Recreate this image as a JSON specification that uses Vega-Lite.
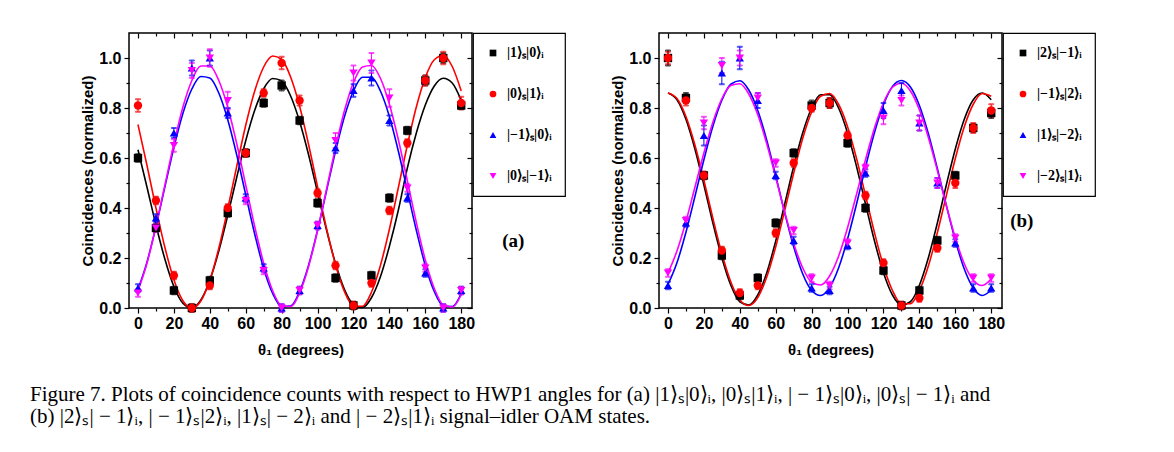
{
  "$schema": "https://vega.github.io/schema/vega-lite/v6.json",
  "background": "white",
  "padding": {"left": 30, "top": 31, "right": 10, "bottom": 10},
  "config": {
    "view": {"stroke": "black", "strokeWidth": 1.5},
    "font": "Liberation Sans",
    "axis": {"labelFont": "Liberation Sans", "labelFontWeight": "bold", "labelFontSize": 16, "labelColor": "black", "titleFont": "Liberation Sans", "titleFontWeight": "bold", "titleFontSize": 15, "titleColor": "black", "tickColor": "black", "tickWidth": 1.2, "grid": false, "domain": false},
    "legend": {"orient": "right", "offset": 0, "padding": 13, "strokeColor": "black", "strokeWidth": 1.2, "rowPadding": 27, "symbolSize": 45, "labelFont": "Liberation Serif", "labelFontWeight": "bold", "labelFontSize": 14, "labelColor": "black", "labelOffset": 7, "symbolStrokeWidth": 0}
  },
  "title": {
    "text": ["Figure 7.  Plots of coincidence counts with respect to HWP1 angles for (a) |1⟩ₛ|0⟩ᵢ, |0⟩ₛ|1⟩ᵢ, | − 1⟩ₛ|0⟩ᵢ, |0⟩ₛ| − 1⟩ᵢ and", "(b) |2⟩ₛ| − 1⟩ᵢ, | − 1⟩ₛ|2⟩ᵢ, |1⟩ₛ| − 2⟩ᵢ and | − 2⟩ₛ|1⟩ᵢ signal–idler OAM states."],
    "orient": "bottom", "anchor": "start", "frame": "bounds", "dx": -50, "offset": 26,
    "font": "Liberation Serif", "fontSize": 21, "fontWeight": "normal", "color": "black", "lineHeight": 22
  },
  "datasets": {
    "fitA": [
      {"t":0,"a1":0.633,"a2":0.734,"a3":0.074,"a4":0.069},
      {"t":5,"a1":0.484,"a2":0.571,"a3":0.183,"a4":0.179},
      {"t":10,"a1":0.332,"a2":0.400,"a3":0.326,"a4":0.326},
      {"t":15,"a1":0.195,"a2":0.242,"a3":0.485,"a4":0.492},
      {"t":20,"a1":0.086,"a2":0.113,"a3":0.642,"a4":0.657},
      {"t":25,"a1":0.019,"a2":0.029,"a3":0.778,"a4":0.803},
      {"t":30,"a1":0.000,"a2":0.000,"a3":0.876,"a4":0.910},
      {"t":35,"a1":0.032,"a2":0.028,"a3":0.926,"a4":0.968},
      {"t":40,"a1":0.111,"a2":0.111,"a3":0.920,"a4":0.968},
      {"t":45,"a1":0.228,"a2":0.239,"a3":0.860,"a4":0.910},
      {"t":50,"a1":0.371,"a2":0.397,"a3":0.753,"a4":0.803},
      {"t":55,"a1":0.523,"a2":0.567,"a3":0.612,"a4":0.657},
      {"t":60,"a1":0.669,"a2":0.731,"a3":0.453,"a4":0.492},
      {"t":65,"a1":0.791,"a2":0.868,"a3":0.296,"a4":0.326},
      {"t":70,"a1":0.877,"a2":0.964,"a3":0.158,"a4":0.179},
      {"t":75,"a1":0.918,"a2":1.008,"a3":0.058,"a4":0.069},
      {"t":80,"a1":0.908,"a2":0.994,"a3":0.006,"a4":0.009},
      {"t":85,"a1":0.848,"a2":0.924,"a3":0.008,"a4":0.006},
      {"t":90,"a1":0.746,"a2":0.807,"a3":0.066,"a4":0.060},
      {"t":95,"a1":0.613,"a2":0.654,"a3":0.171,"a4":0.166},
      {"t":100,"a1":0.462,"a2":0.485,"a3":0.311,"a4":0.310},
      {"t":105,"a1":0.312,"a2":0.318,"a3":0.469,"a4":0.475},
      {"t":110,"a1":0.178,"a2":0.173,"a3":0.627,"a4":0.641},
      {"t":115,"a1":0.074,"a2":0.065,"a3":0.766,"a4":0.790},
      {"t":120,"a1":0.014,"a2":0.008,"a3":0.868,"a4":0.902},
      {"t":125,"a1":0.002,"a2":0.007,"a3":0.923,"a4":0.964},
      {"t":130,"a1":0.041,"a2":0.063,"a3":0.923,"a4":0.970},
      {"t":135,"a1":0.125,"a2":0.170,"a3":0.868,"a4":0.919},
      {"t":140,"a1":0.247,"a2":0.315,"a3":0.766,"a4":0.815},
      {"t":145,"a1":0.392,"a2":0.482,"a3":0.627,"a4":0.673},
      {"t":150,"a1":0.560,"a2":0.651,"a3":0.469,"a4":0.509},
      {"t":155,"a1":0.700,"a2":0.804,"a3":0.311,"a4":0.342},
      {"t":160,"a1":0.812,"a2":0.922,"a3":0.170,"a4":0.192},
      {"t":165,"a1":0.888,"a2":0.993,"a3":0.066,"a4":0.078},
      {"t":170,"a1":0.919,"a2":1.010,"a3":0.008,"a4":0.012},
      {"t":175,"a1":0.900,"a2":0.966,"a3":0.006,"a4":0.004},
      {"t":180,"a1":0.830,"a2":0.868,"a3":0.058,"a4":0.053}
    ],
    "fitB": [
      {"t":0,"b1":0.860,"b2":0.860,"b3":0.094,"b4":0.140},
      {"t":5,"b1":0.833,"b2":0.838,"b3":0.181,"b4":0.228},
      {"t":10,"b1":0.755,"b2":0.766,"b3":0.303,"b4":0.346},
      {"t":15,"b1":0.636,"b2":0.652,"b3":0.446,"b4":0.483},
      {"t":20,"b1":0.492,"b2":0.511,"b3":0.593,"b4":0.620},
      {"t":25,"b1":0.340,"b2":0.359,"b3":0.727,"b4":0.743},
      {"t":30,"b1":0.201,"b2":0.218,"b3":0.831,"b4":0.837},
      {"t":35,"b1":0.091,"b2":0.104,"b3":0.895,"b4":0.890},
      {"t":40,"b1":0.025,"b2":0.032,"b3":0.909,"b4":0.897},
      {"t":45,"b1":0.012,"b2":0.010,"b3":0.872,"b4":0.856},
      {"t":50,"b1":0.052,"b2":0.042,"b3":0.790,"b4":0.773},
      {"t":55,"b1":0.141,"b2":0.124,"b3":0.671,"b4":0.657},
      {"t":60,"b1":0.268,"b2":0.245,"b3":0.529,"b4":0.522},
      {"t":65,"b1":0.416,"b2":0.390,"b3":0.381,"b4":0.383},
      {"t":70,"b1":0.566,"b2":0.540,"b3":0.245,"b4":0.258},
      {"t":75,"b1":0.700,"b2":0.678,"b3":0.137,"b4":0.161},
      {"t":80,"b1":0.800,"b2":0.784,"b3":0.070,"b4":0.103},
      {"t":85,"b1":0.853,"b2":0.847,"b3":0.050,"b4":0.092},
      {"t":90,"b1":0.853,"b2":0.858,"b3":0.082,"b4":0.128},
      {"t":95,"b1":0.800,"b2":0.815,"b3":0.160,"b4":0.207},
      {"t":100,"b1":0.700,"b2":0.725,"b3":0.276,"b4":0.321},
      {"t":105,"b1":0.566,"b2":0.598,"b3":0.416,"b4":0.455},
      {"t":110,"b1":0.416,"b2":0.450,"b3":0.564,"b4":0.593},
      {"t":115,"b1":0.268,"b2":0.301,"b3":0.702,"b4":0.720},
      {"t":120,"b1":0.141,"b2":0.168,"b3":0.813,"b4":0.821},
      {"t":125,"b1":0.052,"b2":0.070,"b3":0.886,"b4":0.883},
      {"t":130,"b1":0.012,"b2":0.017,"b3":0.910,"b4":0.899},
      {"t":135,"b1":0.025,"b2":0.017,"b3":0.884,"b4":0.868},
      {"t":140,"b1":0.091,"b2":0.070,"b3":0.810,"b4":0.793},
      {"t":145,"b1":0.201,"b2":0.168,"b3":0.697,"b4":0.682},
      {"t":150,"b1":0.340,"b2":0.301,"b3":0.558,"b4":0.550},
      {"t":155,"b1":0.492,"b2":0.450,"b3":0.410,"b4":0.410},
      {"t":160,"b1":0.636,"b2":0.598,"b3":0.271,"b4":0.281},
      {"t":165,"b1":0.755,"b2":0.725,"b3":0.156,"b4":0.177},
      {"t":170,"b1":0.833,"b2":0.815,"b3":0.080,"b4":0.111},
      {"t":175,"b1":0.860,"b2":0.858,"b3":0.050,"b4":0.090},
      {"t":180,"b1":0.833,"b2":0.847,"b3":0.072,"b4":0.117}
    ],
    "ptsA": [
      {"k":"a1","t":0,"v":0.60,"e":0.015},{"k":"a1","t":10,"v":0.32,"e":0.015},{"k":"a1","t":20,"v":0.07,"e":0.015},{"k":"a1","t":30,"v":0.00,"e":0.015},{"k":"a1","t":40,"v":0.11,"e":0.015},{"k":"a1","t":50,"v":0.38,"e":0.015},{"k":"a1","t":60,"v":0.62,"e":0.015},{"k":"a1","t":70,"v":0.82,"e":0.015},{"k":"a1","t":80,"v":0.89,"e":0.02},{"k":"a1","t":90,"v":0.75,"e":0.015},{"k":"a1","t":100,"v":0.42,"e":0.015},{"k":"a1","t":110,"v":0.12,"e":0.015},{"k":"a1","t":120,"v":0.01,"e":0.015},{"k":"a1","t":130,"v":0.13,"e":0.015},{"k":"a1","t":140,"v":0.44,"e":0.015},{"k":"a1","t":150,"v":0.71,"e":0.015},{"k":"a1","t":160,"v":0.91,"e":0.02},{"k":"a1","t":170,"v":1.00,"e":0.02},{"k":"a1","t":180,"v":0.81,"e":0.015},
      {"k":"a2","t":0,"v":0.81,"e":0.025},{"k":"a2","t":10,"v":0.43,"e":0.015},{"k":"a2","t":20,"v":0.13,"e":0.015},{"k":"a2","t":30,"v":0.00,"e":0.015},{"k":"a2","t":40,"v":0.09,"e":0.015},{"k":"a2","t":50,"v":0.40,"e":0.015},{"k":"a2","t":60,"v":0.62,"e":0.015},{"k":"a2","t":70,"v":0.86,"e":0.015},{"k":"a2","t":80,"v":0.98,"e":0.025},{"k":"a2","t":90,"v":0.83,"e":0.02},{"k":"a2","t":100,"v":0.46,"e":0.015},{"k":"a2","t":110,"v":0.17,"e":0.015},{"k":"a2","t":120,"v":0.01,"e":0.015},{"k":"a2","t":130,"v":0.10,"e":0.015},{"k":"a2","t":140,"v":0.39,"e":0.015},{"k":"a2","t":150,"v":0.66,"e":0.015},{"k":"a2","t":160,"v":0.91,"e":0.02},{"k":"a2","t":170,"v":1.00,"e":0.025},{"k":"a2","t":180,"v":0.82,"e":0.025},
      {"k":"a3","t":0,"v":0.08,"e":0.015},{"k":"a3","t":10,"v":0.36,"e":0.015},{"k":"a3","t":20,"v":0.70,"e":0.02},{"k":"a3","t":30,"v":0.96,"e":0.03},{"k":"a3","t":40,"v":1.00,"e":0.03},{"k":"a3","t":50,"v":0.78,"e":0.02},{"k":"a3","t":60,"v":0.44,"e":0.015},{"k":"a3","t":70,"v":0.16,"e":0.015},{"k":"a3","t":80,"v":0.00,"e":0.015},{"k":"a3","t":90,"v":0.07,"e":0.015},{"k":"a3","t":100,"v":0.33,"e":0.015},{"k":"a3","t":110,"v":0.64,"e":0.02},{"k":"a3","t":120,"v":0.87,"e":0.025},{"k":"a3","t":130,"v":0.92,"e":0.03},{"k":"a3","t":140,"v":0.75,"e":0.02},{"k":"a3","t":150,"v":0.44,"e":0.015},{"k":"a3","t":160,"v":0.14,"e":0.015},{"k":"a3","t":170,"v":0.00,"e":0.015},{"k":"a3","t":180,"v":0.07,"e":0.015},
      {"k":"a4","t":0,"v":0.06,"e":0.015},{"k":"a4","t":10,"v":0.32,"e":0.015},{"k":"a4","t":20,"v":0.65,"e":0.025},{"k":"a4","t":30,"v":0.95,"e":0.03},{"k":"a4","t":40,"v":1.00,"e":0.035},{"k":"a4","t":50,"v":0.83,"e":0.035},{"k":"a4","t":60,"v":0.43,"e":0.015},{"k":"a4","t":70,"v":0.15,"e":0.015},{"k":"a4","t":80,"v":0.00,"e":0.015},{"k":"a4","t":90,"v":0.07,"e":0.015},{"k":"a4","t":100,"v":0.33,"e":0.015},{"k":"a4","t":110,"v":0.67,"e":0.03},{"k":"a4","t":120,"v":0.94,"e":0.03},{"k":"a4","t":130,"v":0.98,"e":0.04},{"k":"a4","t":140,"v":0.84,"e":0.035},{"k":"a4","t":150,"v":0.48,"e":0.015},{"k":"a4","t":160,"v":0.16,"e":0.015},{"k":"a4","t":170,"v":0.00,"e":0.015},{"k":"a4","t":180,"v":0.07,"e":0.015}
    ],
    "ptsB": [
      {"k":"b1","t":0,"v":1.00,"e":0.03},{"k":"b1","t":10,"v":0.84,"e":0.02},{"k":"b1","t":20,"v":0.53,"e":0.015},{"k":"b1","t":30,"v":0.21,"e":0.015},{"k":"b1","t":40,"v":0.05,"e":0.015},{"k":"b1","t":50,"v":0.12,"e":0.015},{"k":"b1","t":60,"v":0.34,"e":0.015},{"k":"b1","t":70,"v":0.62,"e":0.015},{"k":"b1","t":80,"v":0.81,"e":0.02},{"k":"b1","t":90,"v":0.82,"e":0.02},{"k":"b1","t":100,"v":0.66,"e":0.015},{"k":"b1","t":110,"v":0.40,"e":0.015},{"k":"b1","t":120,"v":0.15,"e":0.015},{"k":"b1","t":130,"v":0.01,"e":0.015},{"k":"b1","t":140,"v":0.07,"e":0.015},{"k":"b1","t":150,"v":0.27,"e":0.015},{"k":"b1","t":160,"v":0.53,"e":0.015},{"k":"b1","t":170,"v":0.72,"e":0.015},{"k":"b1","t":180,"v":0.78,"e":0.02},
      {"k":"b2","t":0,"v":1.00,"e":0.025},{"k":"b2","t":10,"v":0.83,"e":0.02},{"k":"b2","t":20,"v":0.53,"e":0.015},{"k":"b2","t":30,"v":0.23,"e":0.015},{"k":"b2","t":40,"v":0.06,"e":0.015},{"k":"b2","t":50,"v":0.09,"e":0.015},{"k":"b2","t":60,"v":0.30,"e":0.015},{"k":"b2","t":70,"v":0.58,"e":0.015},{"k":"b2","t":80,"v":0.80,"e":0.015},{"k":"b2","t":90,"v":0.82,"e":0.02},{"k":"b2","t":100,"v":0.69,"e":0.015},{"k":"b2","t":110,"v":0.45,"e":0.015},{"k":"b2","t":120,"v":0.18,"e":0.015},{"k":"b2","t":130,"v":0.01,"e":0.015},{"k":"b2","t":140,"v":0.04,"e":0.015},{"k":"b2","t":150,"v":0.24,"e":0.015},{"k":"b2","t":160,"v":0.50,"e":0.02},{"k":"b2","t":170,"v":0.72,"e":0.02},{"k":"b2","t":180,"v":0.79,"e":0.025},
      {"k":"b3","t":0,"v":0.09,"e":0.015},{"k":"b3","t":10,"v":0.34,"e":0.015},{"k":"b3","t":20,"v":0.69,"e":0.04},{"k":"b3","t":30,"v":0.94,"e":0.045},{"k":"b3","t":40,"v":1.00,"e":0.045},{"k":"b3","t":50,"v":0.83,"e":0.03},{"k":"b3","t":60,"v":0.53,"e":0.015},{"k":"b3","t":70,"v":0.27,"e":0.015},{"k":"b3","t":80,"v":0.08,"e":0.015},{"k":"b3","t":90,"v":0.07,"e":0.015},{"k":"b3","t":100,"v":0.25,"e":0.015},{"k":"b3","t":110,"v":0.54,"e":0.015},{"k":"b3","t":120,"v":0.79,"e":0.03},{"k":"b3","t":130,"v":0.87,"e":0.03},{"k":"b3","t":140,"v":0.74,"e":0.03},{"k":"b3","t":150,"v":0.50,"e":0.02},{"k":"b3","t":160,"v":0.26,"e":0.015},{"k":"b3","t":170,"v":0.08,"e":0.015},{"k":"b3","t":180,"v":0.08,"e":0.015},
      {"k":"b4","t":0,"v":0.14,"e":0.015},{"k":"b4","t":10,"v":0.35,"e":0.015},{"k":"b4","t":20,"v":0.74,"e":0.025},{"k":"b4","t":30,"v":0.97,"e":0.03},{"k":"b4","t":40,"v":1.00,"e":0.03},{"k":"b4","t":50,"v":0.84,"e":0.02},{"k":"b4","t":60,"v":0.58,"e":0.015},{"k":"b4","t":70,"v":0.31,"e":0.015},{"k":"b4","t":80,"v":0.12,"e":0.015},{"k":"b4","t":90,"v":0.09,"e":0.015},{"k":"b4","t":100,"v":0.26,"e":0.015},{"k":"b4","t":110,"v":0.56,"e":0.015},{"k":"b4","t":120,"v":0.76,"e":0.025},{"k":"b4","t":130,"v":0.83,"e":0.02},{"k":"b4","t":140,"v":0.74,"e":0.03},{"k":"b4","t":150,"v":0.50,"e":0.02},{"k":"b4","t":160,"v":0.28,"e":0.015},{"k":"b4","t":170,"v":0.12,"e":0.015},{"k":"b4","t":180,"v":0.12,"e":0.015}
    ]
  },
  "resolve": {"scale": {"color": "independent", "shape": "independent", "stroke": "independent"}},
  "spacing": 43,
  "hconcat": [
    {
      "width": 343, "height": 275,
      "resolve": {"axis": {"x": "independent", "y": "independent"}},
      "layer": [
        {
          "data": {"name": "fitA"},
          "transform": [{"fold": ["a1", "a2", "a3", "a4"], "as": ["k", "v"]}],
          "mark": {"type": "line", "strokeWidth": 1.6, "interpolate": "monotone"},
          "encoding": {
            "x": {"field": "t", "type": "quantitative", "scale": {"domain": [-5, 186], "nice": false, "zero": false}, "axis": {"orient": "top", "labels": false, "title": null, "values": [0,20,40,60,80,100,120,140,160,180], "tickSize": 5, "offset": -5}},
            "y": {"field": "v", "type": "quantitative", "scale": {"domain": [0, 1.1], "nice": false}, "axis": {"orient": "right", "labels": false, "title": null, "values": [0,0.2,0.4,0.6,0.8,1.0], "tickSize": 5, "offset": -5}},
            "stroke": {"field": "k", "type": "nominal", "scale": {"range": ["#000000","#ff0000","#0000ff","#ff00ff"]}, "legend": null}
          }
        },
        {
          "data": {"name": "ptsA"},
          "mark": {"type": "errorbar", "ticks": true, "thickness": 1},
          "encoding": {
            "x": {"field": "t", "type": "quantitative", "scale": {"domain": [-5, 186], "nice": false, "zero": false}, "axis": {"orient": "bottom", "labels": false, "title": null, "values": [10,30,50,70,90,110,130,150,170], "tickSize": 3}},
            "y": {"field": "v", "type": "quantitative", "scale": {"domain": [0, 1.1], "nice": false}, "axis": {"orient": "left", "labels": false, "title": null, "values": [0.1,0.3,0.5,0.7,0.9], "tickSize": 3}},
            "yError": {"field": "e"},
            "stroke": {"field": "k", "type": "nominal", "scale": {"range": ["#000000","#ff0000","#0000ff","#ff00ff"]}, "legend": null}
          }
        },
        {
          "data": {"name": "ptsA"},
          "mark": {"type": "point", "filled": true, "size": 70, "opacity": 1},
          "encoding": {
            "x": {"field": "t", "type": "quantitative", "scale": {"domain": [-5, 186], "nice": false, "zero": false}, "axis": {"orient": "bottom", "title": "θ₁ (degrees)", "values": [0,20,40,60,80,100,120,140,160,180], "tickSize": 5, "labelPadding": 2, "titlePadding": 11}},
            "y": {"field": "v", "type": "quantitative", "scale": {"domain": [0, 1.1], "nice": false}, "axis": {"orient": "left", "title": "Coincidences (normalized)", "values": [0,0.2,0.4,0.6,0.8,1.0], "format": ".1f", "tickSize": 5, "labelPadding": 3, "titlePadding": 3}},
            "color": {"field": "k", "type": "nominal", "scale": {"domain": ["a1","a2","a3","a4"], "range": ["#000000","#ff0000","#0000ff","#ff00ff"]}, "legend": {"title": null, "labelExpr": "datum.label == 'a1' ? '|1⟩ₛ|0⟩ᵢ' : datum.label == 'a2' ? '|0⟩ₛ|1⟩ᵢ' : datum.label == 'a3' ? '|−1⟩ₛ|0⟩ᵢ' : '|0⟩ₛ|−1⟩ᵢ'"}},
            "shape": {"field": "k", "type": "nominal", "scale": {"domain": ["a1","a2","a3","a4"], "range": ["square","circle","triangle-up","triangle-down"]}, "legend": {"title": null, "labelExpr": "datum.label == 'a1' ? '|1⟩ₛ|0⟩ᵢ' : datum.label == 'a2' ? '|0⟩ₛ|1⟩ᵢ' : datum.label == 'a3' ? '|−1⟩ₛ|0⟩ᵢ' : '|0⟩ₛ|−1⟩ᵢ'"}}
          }
        },
        {
          "data": {"values": [{"lab": "(a)", "t": 209, "v": 0.27}]},
          "mark": {"type": "text", "font": "Liberation Serif", "fontWeight": "bold", "fontSize": 19, "color": "black"},
          "encoding": {
            "x": {"field": "t", "type": "quantitative", "scale": {"domain": [-5, 186], "nice": false, "zero": false}, "axis": {"orient": "top", "labels": false, "title": null, "values": [10,30,50,70,90,110,130,150,170], "tickSize": 3, "offset": -3}},
            "y": {"field": "v", "type": "quantitative", "scale": {"domain": [0, 1.1], "nice": false}, "axis": {"orient": "right", "labels": false, "title": null, "values": [0.1,0.3,0.5,0.7,0.9], "tickSize": 3, "offset": -3}},
            "text": {"field": "lab"}
          }
        }
      ]
    },
    {
      "width": 343, "height": 275,
      "resolve": {"axis": {"x": "independent", "y": "independent"}},
      "layer": [
        {
          "data": {"name": "fitB"},
          "transform": [{"fold": ["b1", "b2", "b3", "b4"], "as": ["k", "v"]}],
          "mark": {"type": "line", "strokeWidth": 1.6, "interpolate": "monotone"},
          "encoding": {
            "x": {"field": "t", "type": "quantitative", "scale": {"domain": [-5, 186], "nice": false, "zero": false}, "axis": {"orient": "top", "labels": false, "title": null, "values": [0,20,40,60,80,100,120,140,160,180], "tickSize": 5, "offset": -5}},
            "y": {"field": "v", "type": "quantitative", "scale": {"domain": [0, 1.1], "nice": false}, "axis": {"orient": "right", "labels": false, "title": null, "values": [0,0.2,0.4,0.6,0.8,1.0], "tickSize": 5, "offset": -5}},
            "stroke": {"field": "k", "type": "nominal", "scale": {"range": ["#000000","#ff0000","#0000ff","#ff00ff"]}, "legend": null}
          }
        },
        {
          "data": {"name": "ptsB"},
          "mark": {"type": "errorbar", "ticks": true, "thickness": 1},
          "encoding": {
            "x": {"field": "t", "type": "quantitative", "scale": {"domain": [-5, 186], "nice": false, "zero": false}, "axis": {"orient": "bottom", "labels": false, "title": null, "values": [10,30,50,70,90,110,130,150,170], "tickSize": 3}},
            "y": {"field": "v", "type": "quantitative", "scale": {"domain": [0, 1.1], "nice": false}, "axis": {"orient": "left", "labels": false, "title": null, "values": [0.1,0.3,0.5,0.7,0.9], "tickSize": 3}},
            "yError": {"field": "e"},
            "stroke": {"field": "k", "type": "nominal", "scale": {"range": ["#000000","#ff0000","#0000ff","#ff00ff"]}, "legend": null}
          }
        },
        {
          "data": {"name": "ptsB"},
          "mark": {"type": "point", "filled": true, "size": 70, "opacity": 1},
          "encoding": {
            "x": {"field": "t", "type": "quantitative", "scale": {"domain": [-5, 186], "nice": false, "zero": false}, "axis": {"orient": "bottom", "title": "θ₁ (degrees)", "values": [0,20,40,60,80,100,120,140,160,180], "tickSize": 5, "labelPadding": 2, "titlePadding": 11}},
            "y": {"field": "v", "type": "quantitative", "scale": {"domain": [0, 1.1], "nice": false}, "axis": {"orient": "left", "title": "Coincidences (normalized)", "values": [0,0.2,0.4,0.6,0.8,1.0], "format": ".1f", "tickSize": 5, "labelPadding": 3, "titlePadding": 3}},
            "color": {"field": "k", "type": "nominal", "scale": {"domain": ["b1","b2","b3","b4"], "range": ["#000000","#ff0000","#0000ff","#ff00ff"]}, "legend": {"title": null, "labelExpr": "datum.label == 'b1' ? '|2⟩ₛ|−1⟩ᵢ' : datum.label == 'b2' ? '|−1⟩ₛ|2⟩ᵢ' : datum.label == 'b3' ? '|1⟩ₛ|−2⟩ᵢ' : '|−2⟩ₛ|1⟩ᵢ'"}},
            "shape": {"field": "k", "type": "nominal", "scale": {"domain": ["b1","b2","b3","b4"], "range": ["square","circle","triangle-up","triangle-down"]}, "legend": {"title": null, "labelExpr": "datum.label == 'b1' ? '|2⟩ₛ|−1⟩ᵢ' : datum.label == 'b2' ? '|−1⟩ₛ|2⟩ᵢ' : datum.label == 'b3' ? '|1⟩ₛ|−2⟩ᵢ' : '|−2⟩ₛ|1⟩ᵢ'"}}
          }
        },
        {
          "data": {"values": [{"lab": "(b)", "t": 197, "v": 0.35}]},
          "mark": {"type": "text", "font": "Liberation Serif", "fontWeight": "bold", "fontSize": 19, "color": "black"},
          "encoding": {
            "x": {"field": "t", "type": "quantitative", "scale": {"domain": [-5, 186], "nice": false, "zero": false}, "axis": {"orient": "top", "labels": false, "title": null, "values": [10,30,50,70,90,110,130,150,170], "tickSize": 3, "offset": -3}},
            "y": {"field": "v", "type": "quantitative", "scale": {"domain": [0, 1.1], "nice": false}, "axis": {"orient": "right", "labels": false, "title": null, "values": [0.1,0.3,0.5,0.7,0.9], "tickSize": 3, "offset": -3}},
            "text": {"field": "lab"}
          }
        }
      ]
    }
  ]
}
